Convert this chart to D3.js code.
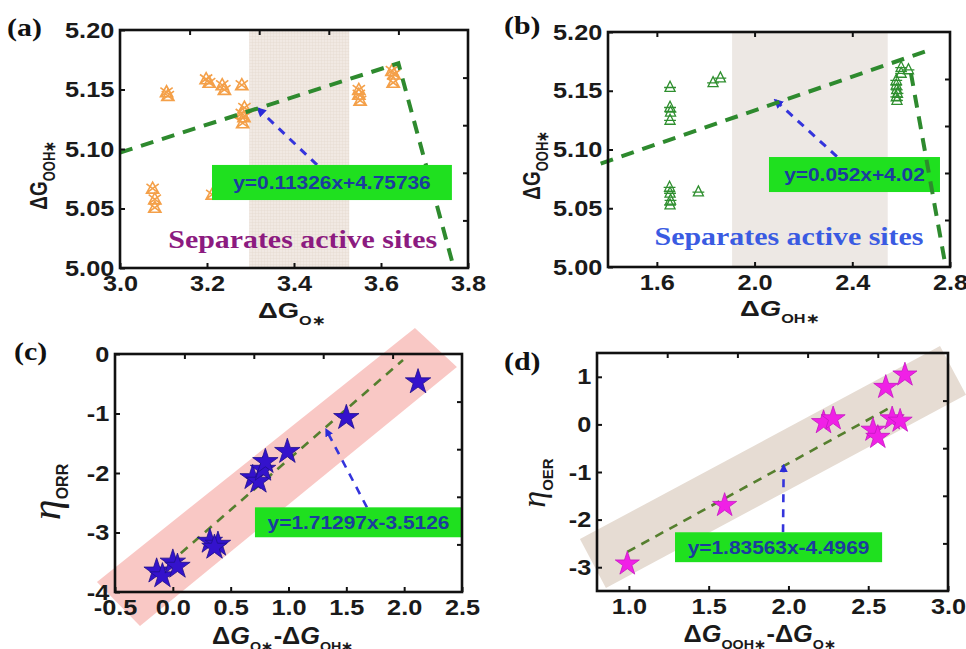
<!DOCTYPE html>
<html>
<head>
<meta charset="utf-8">
<script src="https://cdn.jsdelivr.net/npm/d3@7"></script>
<style>
  body { margin: 0; background: #fff; }
  svg { display: block; }
</style>
</head>
<body>
<svg id="fig" width="966" height="649"></svg>
<script>
// ---------------- data ----------------
// (a) dG_OOH* against dG_O*
const aX = [3.075, 3.08, 3.08, 3.107, 3.11, 3.198, 3.205, 3.235, 3.24, 3.28, 3.286, 3.28, 3.285, 3.282, 3.212, 3.549, 3.549, 3.552, 3.625, 3.63, 3.628];
const aY = [5.067, 5.058, 5.051, 5.148, 5.145, 5.159, 5.156, 5.154, 5.150, 5.154, 5.135, 5.130, 5.127, 5.122, 5.062, 5.150, 5.146, 5.141, 5.166, 5.163, 5.156];
const aTrendX = [3.0, 3.64, 3.766];
const aTrendY = [5.097, 5.172, 5.002];
const aBand = [3.297, 3.527];
const aBoxX = [3.2115, 3.763], aBoxY = [5.0571, 5.0866];
const aArrowX = [3.453, 3.317], aArrowY = [5.0866, 5.134];
const aEq = 'y=0.11326x+4.75736';

// (b) dG_OOH* against dG_OH*
const bX = [1.654, 1.654, 1.656, 1.654, 1.652, 1.654, 1.656, 1.654, 1.77, 1.83, 1.86, 2.58, 2.58, 2.582, 2.585, 2.58, 2.583, 2.6, 2.6, 2.63];
const bY = [5.153, 5.136, 5.132, 5.125, 5.068, 5.063, 5.057, 5.053, 5.064, 5.157, 5.161, 5.159, 5.155, 5.151, 5.148, 5.145, 5.142, 5.165, 5.170, 5.168];
const bRiseX = [1.37, 2.72], bRiseY = [5.088, 5.185];
const bFallX = [2.64, 2.78], bFallY = [5.165, 5.003];
const bBand = [1.908, 2.545];
const bBoxX = [2.059, 2.759], bBoxY = [5.0638, 5.0936];
const bArrowX = [2.337, 2.084], bArrowY = [5.094, 5.142];
const bEq = 'y=0.052x+4.02';

// (c) eta_ORR against dG_O* - dG_OH*
const cX = [-0.14, -0.09, 0.0, 0.04, 0.32, 0.39, 0.36, 0.69, 0.74, 0.78, 0.80, 0.99, 1.50, 2.12];
const cY = [-3.65, -3.73, -3.50, -3.57, -3.15, -3.20, -3.25, -2.08, -2.14, -1.94, -1.81, -1.64, -1.07, -0.47];
const cFitX = [-0.14, 1.99], cFitY = [-3.70, -0.10];
const cBandX = [-0.656, 2.093, 2.456, -0.284], cBandY = [-3.83, 0.435, -0.218, -4.57];
const cBoxX = [0.71, 2.5], cBoxY = [-3.08, -2.577];
const cArrowX = [1.678, 1.325], cArrowY = [-2.577, -1.27];
const cEq = 'y=1.71297x-3.5126';

// (d) eta_OER against dG_OOH* - dG_O*
const dX = [0.99, 1.60, 2.22, 2.28, 2.53, 2.56, 2.61, 2.65, 2.70, 2.73];
const dY = [-2.93, -1.70, 0.04, 0.12, -0.12, -0.27, 0.78, 0.12, 0.07, 1.04];
const dFitX = [0.99, 2.63], dFitY = [-2.68, 0.34];
const dBandX = [0.693, 2.95, 3.113, 0.856], dBandY = [-2.41, 1.646, 0.621, -3.437];
const dBoxX = [1.289, 2.587], dBoxY = [-2.894, -2.266];
const dArrowX = [1.966, 1.97], dArrowY = [-2.266, -0.86];
const dEq = 'y=1.83563x-4.4969';

// ticks
const aXTicks = [3.0, 3.2, 3.4, 3.6, 3.8], aYTicks = [5.00, 5.05, 5.10, 5.15, 5.20];
const bXTicks = [1.6, 2.0, 2.4, 2.8], bYTicks = [5.00, 5.05, 5.10, 5.15, 5.20];
const cXTicks = [-0.5, 0.0, 0.5, 1.0, 1.5, 2.0, 2.5], cYTicks = [0, -1, -2, -3, -4];
const dXTicks = [1.0, 1.5, 2.0, 2.5, 3.0], dYTicks = [1, 0, -1, -2, -3];

// ---------------- drawing ----------------
const SX = 1.15; // lettering in the reference is a bit wide
const svg = d3.select('#fig');
const defs = svg.append('defs');

const grid = defs.append('pattern').attr('id', 'gridfill')
    .attr('width', 3).attr('height', 3).attr('patternUnits', 'userSpaceOnUse');
grid.append('rect').attr('width', 3).attr('height', 3).attr('fill', '#f1e9e3');
grid.append('path').attr('d', 'M0,0H3M0,0V3').attr('stroke', '#e2d5cb').attr('stroke-width', 0.7);

defs.append('marker').attr('id', 'head')
    .attr('viewBox', '0 0 10 10').attr('refX', 8).attr('refY', 5)
    .attr('markerWidth', 3.2).attr('markerHeight', 3.2).attr('orient', 'auto')
  .append('path').attr('d', 'M0,0L10,5L0,10z').attr('fill', '#2b2bd8');

// triangle with an X through it (panel a)
const triCross = {
    draw(ctx, size) {
        const r = Math.sqrt(size) / 2;
        ctx.moveTo(0, -r); ctx.lineTo(r, r * 0.8); ctx.lineTo(-r, r * 0.8); ctx.closePath();
        ctx.moveTo(-r, -r * 0.7); ctx.lineTo(r, r * 0.8);
        ctx.moveTo(r, -r * 0.7); ctx.lineTo(-r, r * 0.8);
    }
};
// triangle with a bar (panel b)
const triBar = {
    draw(ctx, size) {
        const r = Math.sqrt(size) / 2;
        ctx.moveTo(0, -r); ctx.lineTo(r * 0.85, r * 0.7); ctx.lineTo(-r * 0.85, r * 0.7); ctx.closePath();
        ctx.moveTo(-r, r * 0.05); ctx.lineTo(r, r * 0.05);
    }
};

function makePanel(p) {
    const x = d3.scaleLinear().domain(p.xDomain).range([p.left, p.right]);
    const y = d3.scaleLinear().domain(p.yDomain).range([p.bottom, p.top]);
    const g = svg.append('g');
    return { g, x, y, p };
}

function drawFrame(P, xTicks, yTicks, xFmt, yFmt, topTicks, rightTicks) {
    const { g, x, y, p } = P;
    const ax = g.append('g');
    ax.append('rect')
        .attr('x', p.left).attr('y', p.top)
        .attr('width', p.right - p.left).attr('height', p.bottom - p.top)
        .attr('fill', 'none').attr('stroke', '#111').attr('stroke-width', 2.6);

    ax.append('g').attr('transform', `translate(0,${p.bottom})`)
        .call(d3.axisBottom(x).tickValues(xTicks).tickFormat(xFmt).tickSize(-5).tickPadding(7));
    ax.append('g').attr('transform', `translate(${p.left},0)`)
        .call(d3.axisLeft(y).tickValues(yTicks).tickFormat(yFmt).tickSize(-5).tickPadding(5));
    ax.append('g').attr('transform', `translate(0,${p.top})`)
        .call(d3.axisTop(x).tickValues(topTicks).tickFormat('').tickSize(-5));
    ax.append('g').attr('transform', `translate(${p.right},0)`)
        .call(d3.axisRight(y).tickValues(rightTicks).tickFormat('').tickSize(-5));

    ax.selectAll('.domain').remove();
    ax.selectAll('g').attr('font-family', null).attr('font-size', null);
    ax.selectAll('.tick line').attr('stroke', '#111').attr('stroke-width', 2);
    ax.selectAll('.tick text')
        .attr('fill', '#1a1a1a')
        .style('font-family', '"Liberation Sans", Arial, sans-serif')
        .style('font-weight', 'bold')
        .style('font-size', '22px')
        .attr('transform', `scale(${SX},1)`);
}

function scatter(P, xs, ys, type, size, fill, stroke, sw) {
    const { g, x, y } = P;
    g.append('g').selectAll('path')
        .data(xs.map((v, i) => [v, ys[i]]))
        .enter().append('path')
        .attr('transform', d => `translate(${x(d[0])},${y(d[1])})`)
        .attr('d', d3.symbol().type(type).size(size))
        .attr('fill', fill).attr('stroke', stroke).attr('stroke-width', sw);
}

function dashed(P, xs, ys, color, width, dash) {
    const { g, x, y } = P;
    const line = d3.line().x(d => x(d[0])).y(d => y(d[1]));
    g.append('path')
        .attr('d', line(xs.map((v, i) => [v, ys[i]])))
        .attr('fill', 'none').attr('stroke', color)
        .attr('stroke-width', width).attr('stroke-dasharray', dash);
}

function arrow(P, xs, ys, width) {
    const { g, x, y } = P;
    g.append('line')
        .attr('x1', x(xs[0])).attr('y1', y(ys[0]))
        .attr('x2', x(xs[1])).attr('y2', y(ys[1]))
        .attr('stroke', '#3434dc').attr('stroke-width', width)
        .attr('stroke-dasharray', '8,7')
        .attr('marker-end', 'url(#head)');
}

function eqBox(P, bx, by, text, size) {
    const { g, x, y } = P;
    g.append('rect')
        .attr('x', x(bx[0])).attr('y', y(by[1]))
        .attr('width', x(bx[1]) - x(bx[0])).attr('height', y(by[0]) - y(by[1]))
        .attr('fill', '#1fe01f');
    g.append('text')
        .attr('transform', `translate(${(x(bx[0]) + x(bx[1])) / 2},${(y(by[0]) + y(by[1])) / 2 + size * 0.36}) scale(1.1,1)`)
        .attr('text-anchor', 'middle')
        .style('font-family', '"Liberation Sans", Arial, sans-serif')
        .style('font-weight', 'bold').style('font-size', size + 'px')
        .attr('fill', '#1b3c9e')
        .text(text);
}

function panelTag(tx, ty, t) {
    svg.append('text')
        .attr('transform', `translate(${tx},${ty}) scale(${SX},1)`)
        .style('font-family', '"Liberation Serif", "Times New Roman", serif')
        .style('font-weight', 'bold').style('font-size', '26px')
        .attr('fill', '#111').text(t);
}

// axis title: parts = [[text, isSub, italic, family]]
function title(tx, ty, rot, parts, big, sub, stretch) {
    const t = svg.append('text')
        .attr('transform', `translate(${tx},${ty}) rotate(${rot}) scale(${stretch[0]},${stretch[1]})`)
        .attr('text-anchor', 'middle')
        .style('font-family', '"Liberation Sans", Arial, sans-serif')
        .style('font-weight', 'bold')
        .attr('fill', '#1a1a1a');
    let low = false;
    parts.forEach(([s, isSub, it, fam]) => {
        const ts = t.append('tspan').text(s)
            .style('font-size', (isSub ? sub : big) + 'px');
        if (it) ts.style('font-style', 'italic');
        if (fam) ts.style('font-family', fam).style('font-weight', 'normal');
        if (isSub && !low) { ts.attr('dy', sub * 0.5); low = true; }
        else if (!isSub && low) { ts.attr('dy', -sub * 0.5); low = false; }
    });
}

const f1 = d => d.toFixed(1), f2 = d => d.toFixed(2), f0 = d => String(d);

// ---------- (a) ----------
const A = makePanel({ left: 120, right: 468, top: 30, bottom: 268, xDomain: [3.0, 3.8], yDomain: [5.0, 5.2] });
A.g.append('rect')
    .attr('x', A.x(aBand[0])).attr('y', A.y(5.2))
    .attr('width', A.x(aBand[1]) - A.x(aBand[0])).attr('height', A.y(5.0) - A.y(5.2))
    .attr('fill', 'url(#gridfill)');
scatter(A, aX, aY, triCross, 150, 'none', '#f4a049', 1.6);
arrow(A, aArrowX, aArrowY, 3);
dashed(A, aTrendX, aTrendY, '#2e8a2e', 4, '13,9');
eqBox(A, aBoxX, aBoxY, aEq, 19);
A.g.append('text')
    .attr('transform', `translate(${A.x(3.42)},${A.y(5.017)}) scale(${SX},1)`)
    .attr('text-anchor', 'middle')
    .style('font-family', '"Liberation Serif", "Times New Roman", serif')
    .style('font-weight', 'bold').style('font-size', '26px')
    .attr('fill', '#8c1b80').text('Separates active sites');
drawFrame(A, aXTicks, aYTicks, f1, f2, [3.16, 3.32, 3.48, 3.64], [5.04, 5.08, 5.12, 5.16]);
panelTag(7, 36, '(a)');
title(47, 175, -90, [['ΔG', false], ['OOH∗', true]], 19, 13, [1, 1.25]);
title(292, 318, 0, [['ΔG', false], ['O∗', true]], 22, 13, [1.25, 1]);

// ---------- (b) ----------
const B = makePanel({ left: 608, right: 950, top: 32, bottom: 267, xDomain: [1.4, 2.8], yDomain: [5.0, 5.2] });
B.g.append('rect')
    .attr('x', B.x(bBand[0])).attr('y', B.y(5.2))
    .attr('width', B.x(bBand[1]) - B.x(bBand[0])).attr('height', B.y(5.0) - B.y(5.2))
    .attr('fill', '#ede8e4');
scatter(B, bX, bY, triBar, 140, 'none', '#2f8f2f', 1.3);
arrow(B, bArrowX, bArrowY, 3);
dashed(B, bRiseX, bRiseY, '#2e8a2e', 4, '13,9');
eqBox(B, bBoxX, bBoxY, bEq, 19);
dashed(B, bFallX, bFallY, '#2e8a2e', 4, '13,9');
B.g.append('text')
    .attr('transform', `translate(${B.x(2.141)},${B.y(5.019)}) scale(${SX},1)`)
    .attr('text-anchor', 'middle')
    .style('font-family', '"Liberation Serif", "Times New Roman", serif')
    .style('font-weight', 'bold').style('font-size', '26px')
    .attr('fill', '#3a5be2').text('Separates active sites');
drawFrame(B, bXTicks, bYTicks, f1, f2, [1.6, 2.0, 2.4], [5.04, 5.08, 5.12, 5.16]);
panelTag(504, 34, '(b)');
title(540, 165, -90, [['ΔG', false], ['OOH∗', true]], 19, 13, [1, 1.25]);
title(780, 316, 0, [['Δ', false], ['G', false, true], ['OH∗', true]], 22, 13, [1.25, 1]);

// ---------- (c) ----------
const C = makePanel({ left: 115, right: 462, top: 354, bottom: 592, xDomain: [-0.5, 2.5], yDomain: [-4, 0] });
C.g.append('path')
    .attr('d', d3.line()(cBandX.map((v, i) => [C.x(v), C.y(cBandY[i])])) + 'Z')
    .attr('fill', '#f9c8c5');
dashed(C, cFitX, cFitY, '#557f2e', 2.6, '9,7');
arrow(C, cArrowX, cArrowY, 2.6);
scatter(C, cX, cY, d3.symbolStar, 200, '#3412cc', '#20108a', 0.8);
eqBox(C, cBoxX, cBoxY, cEq, 19);
drawFrame(C, cXTicks, cYTicks, f1, f0, [0.1, 0.7, 1.3, 1.9], [-0.8, -1.6, -2.4, -3.2]);
panelTag(14, 360, '(c)');
title(60, 492, -90, [['η', false, true, '"Liberation Serif", serif'], ['ORR', true]], 42, 16, [1, 1]);
title(283, 644, 0, [['Δ', false], ['G', false, true], ['O∗', true], ['-Δ', false], ['G', false, true], ['OH∗', true]], 23, 13, [1.1, 1]);

// ---------- (d) ----------
const D = makePanel({ left: 597, right: 948, top: 353, bottom: 591, xDomain: [0.8, 3.0], yDomain: [-3.5, 1.5] });
D.g.append('path')
    .attr('d', d3.line()(dBandX.map((v, i) => [D.x(v), D.y(dBandY[i])])) + 'Z')
    .attr('fill', '#e6dcd3');
dashed(D, dFitX, dFitY, '#557f2e', 2.6, '9,7');
arrow(D, dArrowX, dArrowY, 2.6);
scatter(D, dX, dY, d3.symbolStar, 180, '#f020e6', '#c418c0', 0.8);
eqBox(D, dBoxX, dBoxY, dEq, 19);
drawFrame(D, dXTicks, dYTicks, f1, f0, [1.24, 1.68, 2.12, 2.56], [0.5, -0.5, -1.5, -2.5]);
panelTag(504, 370, '(d)');
title(545, 483, -90, [['η', false, true, '"Liberation Serif", serif'], ['OER', true]], 34, 15, [1, 1]);
title(760, 642, 0, [['Δ', false], ['G', false, true], ['OOH∗', true], ['-Δ', false], ['G', false, true], ['O∗', true]], 23, 13, [1.1, 1]);
</script>
</body>
</html>
